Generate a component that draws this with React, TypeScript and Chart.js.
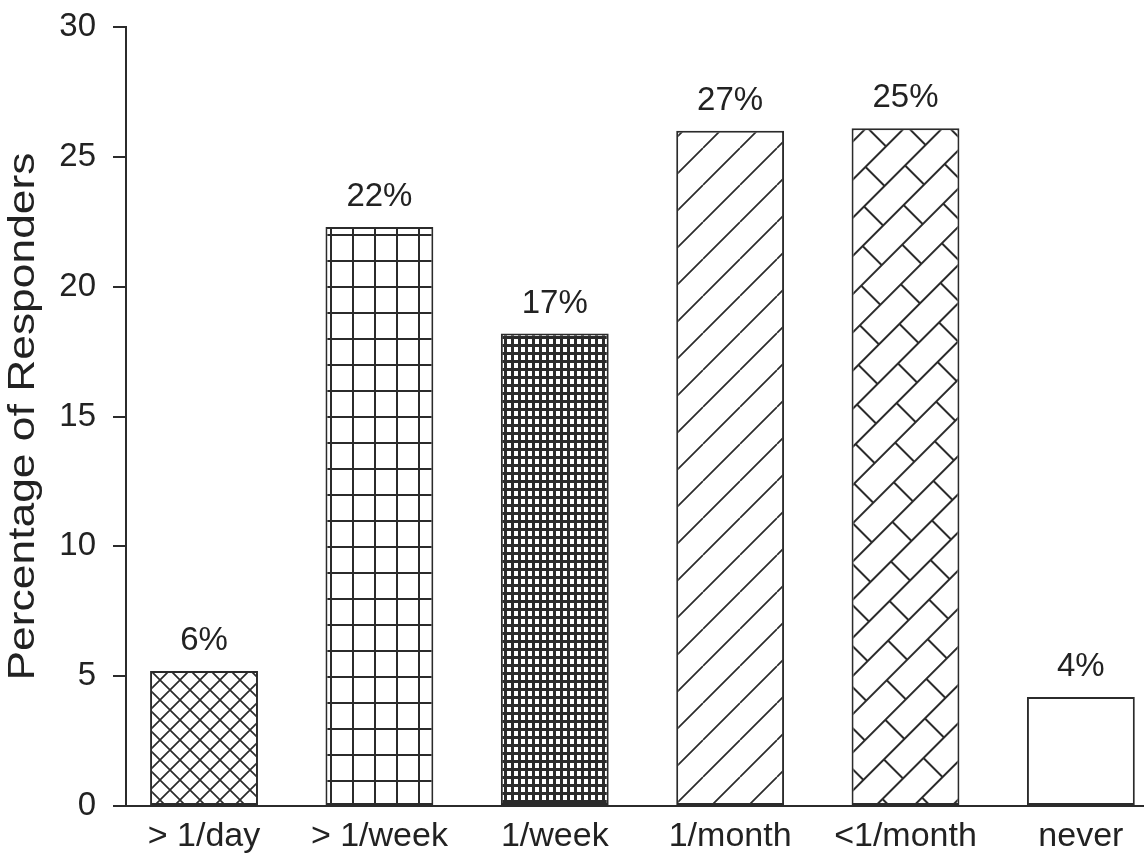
import React, { useEffect, useRef } from 'react';
import { Chart, registerables } from 'chart.js';

Chart.register(...registerables);

const categories = ['> 1/day', '> 1/week', '1/week', '1/month', '<1/month', 'never'];
const values = [5.2, 22.3, 18.2, 26.0, 26.1, 4.2];
const percentLabels = ['6%', '22%', '17%', '27%', '25%', '4%'];
const yTitle = 'Percentage of Responders';

const INK = '#2b2b2b';
const TEXT = '#222222';
const FONT = '"Liberation Sans", Arial, Helvetica, sans-serif';

function tile(w: number, h: number, draw: (g: CanvasRenderingContext2D) => void) {
  const c = document.createElement('canvas');
  c.width = w;
  c.height = h;
  const g = c.getContext('2d') as CanvasRenderingContext2D;
  g.fillStyle = '#ffffff';
  g.fillRect(0, 0, w, h);
  g.strokeStyle = INK;
  g.fillStyle = INK;
  draw(g);
  return c;
}

function makePatterns(ctx: CanvasRenderingContext2D) {
  // diagonal crosshatch
  const s1 = 20;
  const cross = tile(s1, s1, (g) => {
    g.lineWidth = 1.7;
    g.beginPath();
    for (const o of [-s1, 0, s1]) {
      g.moveTo(o, s1);
      g.lineTo(o + s1, 0);
      g.moveTo(o, 0);
      g.lineTo(o + s1, s1);
    }
    g.stroke();
  });
  // coarse square grid
  const grid = tile(22, 26, (g) => {
    g.fillRect(0, 0, 22, 2);
    g.fillRect(0, 0, 2, 26);
  });
  // fine dense grid
  const fine = tile(7, 8, (g) => {
    g.fillRect(0, 0, 7, 3);
    g.fillRect(0, 0, 3, 8);
  });
  // forward diagonal
  const s4 = 37;
  const diag = tile(s4, s4, (g) => {
    g.lineWidth = 1.7;
    g.beginPath();
    for (const o of [-s4, 0, s4]) {
      g.moveTo(o, s4);
      g.lineTo(o + s4, 0);
    }
    g.stroke();
  });
  // brick, rotated 45 degrees
  const L = 58;
  const h = 27;
  const brick = tile(L, 2 * h, (g) => {
    g.fillRect(0, 0, L, 2);
    g.fillRect(0, h, L, 2);
    g.fillRect(0, 0, 2, h);
    g.fillRect(L / 2, h, 2, h);
  });

  const p1 = ctx.createPattern(cross, 'repeat') as CanvasPattern;
  const p2 = ctx.createPattern(grid, 'repeat') as CanvasPattern;
  const p3 = ctx.createPattern(fine, 'repeat') as CanvasPattern;
  const p4 = ctx.createPattern(diag, 'repeat') as CanvasPattern;
  const p5 = ctx.createPattern(brick, 'repeat') as CanvasPattern;
  try {
    p5.setTransform(new DOMMatrix().rotateSelf(-45));
  } catch (e) {
    /* ignore */
  }
  return [p1, p2, p3, p4, p5, '#ffffff'];
}

const annotations = {
  id: 'annotations',
  afterDatasetsDraw(chart: any) {
    const ctx = chart.ctx as CanvasRenderingContext2D;
    const meta = chart.getDatasetMeta(0);
    const { top, bottom, left } = chart.chartArea;
    ctx.save();
    ctx.fillStyle = TEXT;
    ctx.font = `33px ${FONT}`;
    ctx.textAlign = 'center';
    ctx.textBaseline = 'middle';
    meta.data.forEach((bar: any, i: number) => {
      ctx.fillText(percentLabels[i], bar.x, bar.y - 30);
    });
    ctx.restore();

    // x-axis line extension to the left of the y axis
    ctx.save();
    ctx.strokeStyle = INK;
    ctx.lineWidth = 2;
    ctx.beginPath();
    ctx.moveTo(113, bottom);
    ctx.lineTo(left, bottom);
    ctx.stroke();
    ctx.restore();

    // y-axis title (stretched along its length)
    ctx.save();
    ctx.fillStyle = TEXT;
    ctx.font = `36px ${FONT}`;
    ctx.textAlign = 'center';
    ctx.textBaseline = 'alphabetic';
    const w = ctx.measureText(yTitle).width;
    ctx.translate(34, (top + bottom) / 2);
    ctx.rotate(-Math.PI / 2);
    ctx.scale(528 / w, 1);
    ctx.fillText(yTitle, 0, 0);
    ctx.restore();
  },
};

export default function App() {
  const ref = useRef<HTMLCanvasElement>(null);

  useEffect(() => {
    const canvas = ref.current;
    if (!canvas) return;
    const ctx = canvas.getContext('2d') as CanvasRenderingContext2D;
    const patterns = makePatterns(ctx);

    const chart = new Chart(ctx, {
      type: 'bar',
      data: {
        datasets: [
          {
            data: values.map((v, i) => ({ x: i, y: v })),
            backgroundColor: patterns as any,
            borderColor: INK,
            borderWidth: 2,
            borderSkipped: false,
            barPercentage: 0.615,
            categoryPercentage: 1,
          },
        ],
      },
      options: {
        responsive: false,
        devicePixelRatio: 1,
        animation: false,
        layout: { padding: { top: 27, left: 0, right: 0, bottom: 0 } },
        plugins: {
          legend: { display: false },
          tooltip: { enabled: false },
          title: { display: false },
        },
        scales: {
          x: {
            type: 'linear',
            offset: false,
            min: -0.445,
            max: 5.36,
            afterBuildTicks: (scale: any) => {
              scale.ticks = categories.map((_, i) => ({ value: i }));
            },
            afterFit: (scale: any) => {
              scale.height = 51;
              scale.paddingLeft = 0;
              scale.paddingRight = 0;
            },
            grid: { display: false, drawTicks: false, offset: false },
            border: { display: true, color: INK, width: 2 },
            ticks: {
              autoSkip: false,
              maxRotation: 0,
              minRotation: 0,
              padding: 10,
              color: TEXT,
              font: { family: FONT, size: 34 },
              callback: (v: any) => categories[Math.round(Number(v))] ?? '',
            },
          },
          y: {
            min: 0,
            max: 30,
            afterFit: (scale: any) => {
              scale.width = 126;
              scale.paddingTop = 0;
              scale.paddingBottom = 0;
            },
            grid: {
              display: true,
              drawOnChartArea: false,
              drawTicks: true,
              tickLength: 13,
              color: INK,
              lineWidth: 2,
            },
            border: { display: true, color: INK, width: 2 },
            ticks: {
              stepSize: 5,
              padding: 17,
              color: TEXT,
              font: { family: FONT, size: 33 },
            },
          },
        },
      },
      plugins: [annotations],
    } as any);

    return () => {
      chart.destroy();
    };
  }, []);

  return (
    <canvas
      ref={ref}
      width={1144}
      height={857}
      style={{ position: 'absolute', left: 0, top: 0, width: 1144, height: 857, background: '#ffffff' }}
    />
  );
}
